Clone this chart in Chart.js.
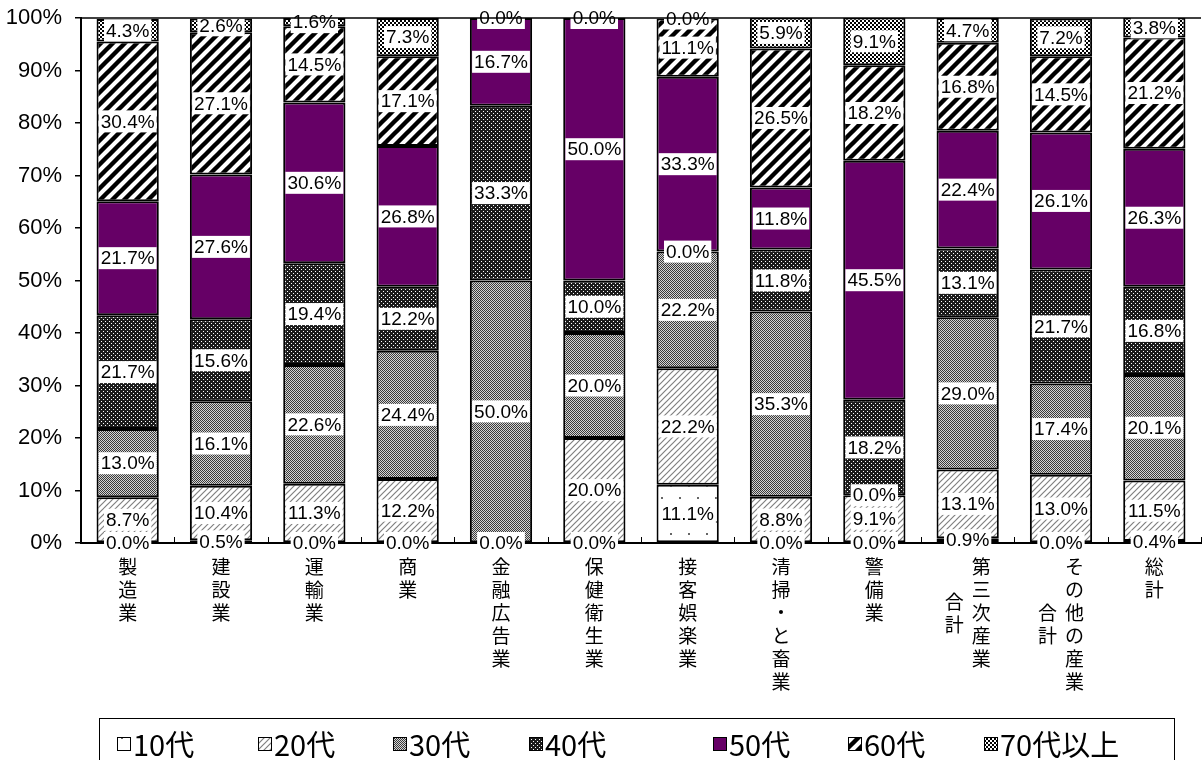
<!DOCTYPE html>
<html>
<head>
<meta charset="utf-8">
<script src="https://cdn.jsdelivr.net/npm/chart.js@4.4.1/dist/chart.umd.min.js"></script>
<style>
  body { margin: 0; background: #fff; }
</style>
</head>
<body>
<canvas id="chart" width="1202" height="760"></canvas>
<script>
// categories (line break = second vertical column)
var categories = ['製造業', '建設業', '運輸業', '商業', '金融広告業', '保健衛生業', '接客娯楽業',
                  '清掃・と畜業', '警備業', '第三次産業\n合計', 'その他の産業\n合計', '総計'];
var seriesNames = ['10代', '20代', '30代', '40代', '50代', '60代', '70代以上'];

// percentages per age group
var s10 = [0.0, 0.5, 0.0, 0.0, 0.0, 0.0, 11.1, 0.0, 0.0, 0.9, 0.0, 0.4];
var s20 = [8.7, 10.4, 11.3, 12.2, 0.0, 20.0, 22.2, 8.8, 9.1, 13.1, 13.0, 11.5];
var s30 = [13.0, 16.1, 22.6, 24.4, 50.0, 20.0, 22.2, 35.3, 0.0, 29.0, 17.4, 20.1];
var s40 = [21.7, 15.6, 19.4, 12.2, 33.3, 10.0, 0.0, 11.8, 18.2, 13.1, 21.7, 16.8];
var s50 = [21.7, 27.6, 30.6, 26.8, 16.7, 50.0, 33.3, 11.8, 45.5, 22.4, 26.1, 26.3];
var s60 = [30.4, 27.1, 14.5, 17.1, 0.0, 0.0, 11.1, 26.5, 18.2, 16.8, 14.5, 21.2];
var s70 = [4.3, 2.6, 1.6, 7.3, 0.0, 0.0, 0.0, 5.9, 9.1, 4.7, 7.2, 3.8];
var series = [s10, s20, s30, s40, s50, s60, s70];

var canvas = document.getElementById('chart');
var ctx = canvas.getContext('2d');

function makePattern(w, h, draw) {
    var c = document.createElement('canvas');
    c.width = w;
    c.height = h;
    var g = c.getContext('2d');
    draw(g, w, h);
    return ctx.createPattern(c, 'repeat');
}

function diagonal(g, s, color, lw) {
    g.strokeStyle = color;
    g.lineWidth = lw;
    g.beginPath();
    g.moveTo(0, s); g.lineTo(s, 0);
    g.moveTo(-s / 2, s / 2); g.lineTo(s / 2, -s / 2);
    g.moveTo(s / 2, s * 1.5); g.lineTo(s * 1.5, s / 2);
    g.stroke();
}

var patterns = [
    // 10代: sparse dots
    makePattern(18, 24, function(g, w, h) {
        g.fillStyle = '#fff'; g.fillRect(0, 0, w, h);
        g.fillStyle = '#666';
        g.fillRect(4, 5, 2, 2);
        g.fillRect(13, 17, 2, 2);
    }),
    // 20代: thin grey hatch
    makePattern(6, 6, function(g, w, h) {
        g.fillStyle = '#fff'; g.fillRect(0, 0, w, h);
        diagonal(g, 6, '#808080', 1.2);
    }),
    // 30代: grey checker
    makePattern(2, 2, function(g, w, h) {
        g.fillStyle = '#d4d4d4'; g.fillRect(0, 0, w, h);
        g.fillStyle = '#3a3a3a';
        g.fillRect(0, 0, 1, 1);
        g.fillRect(1, 1, 1, 1);
    }),
    // 40代: dark with white dots
    makePattern(4, 4, function(g, w, h) {
        g.fillStyle = '#1c1c1c'; g.fillRect(0, 0, w, h);
        g.fillStyle = '#fff';
        g.fillRect(1, 1, 1, 1);
        g.fillRect(3, 3, 1, 1);
    }),
    '#660066',
    // 60代: wide black stripes
    makePattern(12, 12, function(g, w, h) {
        g.fillStyle = '#fff'; g.fillRect(0, 0, w, h);
        diagonal(g, 12, '#000', 4.4);
    }),
    // 70代以上: checkerboard
    makePattern(4, 4, function(g, w, h) {
        g.fillStyle = '#fff'; g.fillRect(0, 0, w, h);
        g.fillStyle = '#000';
        g.fillRect(0, 0, 2, 2);
        g.fillRect(2, 2, 2, 2);
    })
];

var datasets = [];
for (var i = 0; i < series.length; i++) {
    datasets.push({
        label: seriesNames[i],
        data: series[i],
        backgroundColor: patterns[i],
        borderColor: '#000',
        borderWidth: 2,
        borderSkipped: false,
        barPercentage: 0.667,
        categoryPercentage: 1.0
    });
}

var labelFont = '19px "Liberation Sans", Arial, sans-serif';
var cjkFont = '"Noto Sans CJK JP", sans-serif';

var decorPlugin = {
    id: 'decor',
    afterDatasetsDraw: function(chart) {
        var c = chart.ctx;
        c.save();
        c.font = labelFont;
        c.textAlign = 'center';
        c.textBaseline = 'middle';
        chart.data.datasets.forEach(function(ds, di) {
            var meta = chart.getDatasetMeta(di);
            meta.data.forEach(function(bar, j) {
                var txt = ds.data[j].toFixed(1) + '%';
                var cy = (bar.y + bar.base) / 2;
                var w = c.measureText(txt).width + 4;
                c.fillStyle = '#fff';
                c.fillRect(bar.x - w / 2, cy - 11, w, 22);
                c.fillStyle = '#000';
                c.fillText(txt, bar.x, cy + 1);
            });
        });
        c.restore();
    },
    afterDraw: function(chart) {
        var c = chart.ctx;
        var area = chart.chartArea;
        var xs = chart.scales.x;
        c.save();

        // top frame line
        c.strokeStyle = '#000';
        c.lineWidth = 1.5;
        c.beginPath();
        c.moveTo(area.left, area.top);
        c.lineTo(area.right, area.top);
        c.stroke();

        // inward category ticks
        var half = (xs.getPixelForValue(1) - xs.getPixelForValue(0)) / 2;
        c.lineWidth = 1;
        c.beginPath();
        for (var i = 0; i <= categories.length; i++) {
            var bx = Math.round(xs.getPixelForValue(i) - half) + 0.5;
            c.moveTo(bx, area.bottom);
            c.lineTo(bx, area.bottom - 6);
        }
        c.stroke();

        // vertical category labels
        c.font = '19px ' + cjkFont;
        c.fillStyle = '#000';
        c.textAlign = 'center';
        c.textBaseline = 'middle';
        var top = area.bottom + 24, lh = 23, colGap = 27;
        categories.forEach(function(name, i) {
            var cols = name.split('\n');
            var maxLen = Math.max.apply(null, cols.map(function(s) { return s.length; }));
            var x0 = xs.getPixelForValue(i);
            cols.forEach(function(col, k) {
                var cx = x0 + ((cols.length - 1) / 2 - k) * colGap;
                var off = (maxLen - col.length) / 2 * lh;
                for (var j = 0; j < col.length; j++) {
                    c.fillText(col[j], cx, top + off + j * lh);
                }
            });
        });

        // legend box
        c.lineWidth = 1;
        c.strokeRect(99.5, 718.5, 1075, 60);
        var legendX = [117, 258, 393, 529, 713, 848, 984];
        var ly = 744;
        c.font = '29px ' + cjkFont;
        c.textAlign = 'left';
        chart.data.datasets.forEach(function(ds, di) {
            var x = legendX[di];
            c.fillStyle = ds.backgroundColor;
            c.fillRect(x, ly - 7, 14, 14);
            c.strokeStyle = '#000';
            c.strokeRect(x + 0.5, ly - 6.5, 13, 13);
            c.fillStyle = '#000';
            c.fillText(ds.label, x + 16, ly + 1);
        });
        c.restore();
    }
};

var myChart = new Chart(ctx, {
    type: 'bar',
    data: {
        labels: categories,
        datasets: datasets
    },
    options: {
        responsive: false,
        animation: false,
        layout: { padding: { top: 0, right: 1, left: 0, bottom: 0 } },
        plugins: {
            legend: { display: false },
            tooltip: { enabled: false }
        },
        scales: {
            x: {
                stacked: true,
                ticks: { display: false },
                grid: { display: false },
                border: { color: '#000', width: 2 },
                afterFit: function(s) { s.height = 217; }
            },
            y: {
                stacked: true,
                min: 0,
                max: 100,
                ticks: {
                    stepSize: 10,
                    color: '#000',
                    padding: 13,
                    font: { family: 'Liberation Sans', size: 22, lineHeight: 0.45 },
                    callback: function(v) { return v + '%'; }
                },
                grid: { drawOnChartArea: false, color: '#000', tickLength: 6, lineWidth: 1.5 },
                border: { color: '#000', width: 2 },
                afterFit: function(s) { s.width = 81; }
            }
        }
    },
    plugins: [decorPlugin]
});
</script>
</body>
</html>
